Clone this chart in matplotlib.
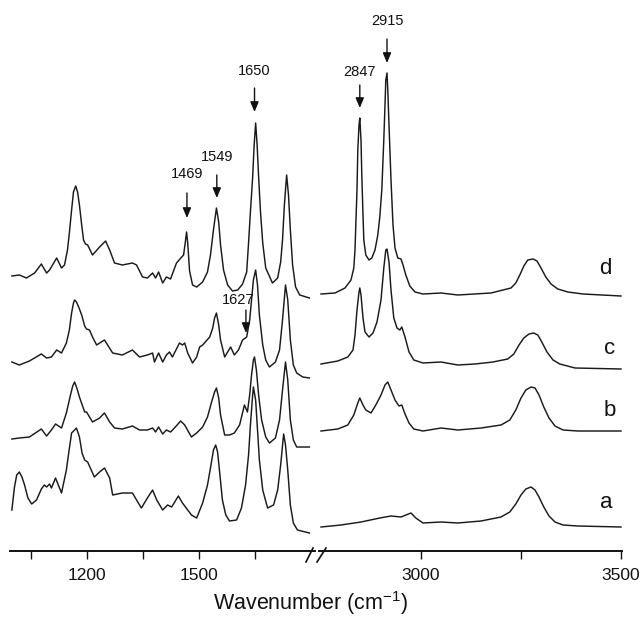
import matplotlib
matplotlib.use('Agg')
import matplotlib.pyplot as plt
from matplotlib.lines import Line2D

plt.rcParams['font.family'] = ['Liberation Sans', 'DejaVu Sans']
plt.rcParams['mathtext.fontset'] = 'custom'
plt.rcParams['mathtext.rm'] = 'Liberation Sans'
plt.rcParams['mathtext.it'] = 'Liberation Sans:italic'

# ---------------- data (wavenumber cm-1, stacked absorbance a.u.) ----------------
# low-wavenumber region
d_left = [(1000, 2.75), (1020, 2.76), (1039, 2.73), (1061, 2.78), (1079, 2.87), (1093, 2.78), (1101, 2.81),
          (1120, 2.93), (1133, 2.83), (1141, 2.86), (1149, 3.01), (1154, 3.18), (1160, 3.41), (1165, 3.59),
          (1171, 3.65), (1176, 3.59), (1181, 3.46), (1187, 3.26), (1192, 3.11), (1197, 3.07), (1203, 3.06),
          (1216, 2.96), (1235, 3.04), (1251, 3.10), (1262, 3.01), (1275, 2.88), (1296, 2.86), (1323, 2.88),
          (1334, 2.86), (1350, 2.74), (1363, 2.73), (1377, 2.78), (1385, 2.73), (1393, 2.79), (1404, 2.68),
          (1414, 2.74), (1425, 2.72), (1441, 2.88), (1455, 2.94), (1460, 2.96), (1465, 3.10), (1468, 3.19),
          (1471, 3.08), (1476, 2.80), (1484, 2.66), (1495, 2.64), (1511, 2.69), (1524, 2.79), (1532, 2.96),
          (1540, 3.21), (1548, 3.43), (1554, 3.29), (1559, 3.06), (1567, 2.81), (1578, 2.66), (1591, 2.60),
          (1605, 2.61), (1618, 2.67), (1629, 2.79), (1634, 3.08), (1639, 3.39), (1645, 3.74), (1649, 4.06),
          (1653, 4.28), (1657, 4.06), (1661, 3.74), (1666, 3.39), (1672, 3.08), (1680, 2.83), (1698, 2.68),
          (1712, 2.73), (1720, 2.89), (1725, 3.11), (1730, 3.46), (1736, 3.76), (1741, 3.56), (1746, 3.21),
          (1752, 2.86), (1760, 2.64), (1771, 2.56), (1797, 2.53)]

c_left = [(1000, 1.89), (1020, 1.86), (1047, 1.90), (1079, 1.97), (1093, 1.93), (1106, 1.94), (1120, 2.01),
          (1133, 1.98), (1146, 2.08), (1154, 2.21), (1160, 2.38), (1165, 2.48), (1168, 2.51), (1173, 2.49),
          (1180, 2.43), (1187, 2.36), (1195, 2.25), (1200, 2.22), (1208, 2.21), (1216, 2.14), (1227, 2.06),
          (1248, 2.11), (1270, 1.98), (1296, 1.96), (1323, 2.01), (1342, 1.94), (1363, 1.96), (1377, 1.98),
          (1382, 1.89), (1393, 1.98), (1404, 1.89), (1414, 1.96), (1422, 1.99), (1430, 1.94), (1449, 2.08),
          (1457, 2.06), (1463, 2.08), (1471, 1.98), (1484, 1.88), (1495, 1.94), (1503, 2.04), (1511, 2.06),
          (1530, 2.14), (1538, 2.23), (1543, 2.33), (1548, 2.38), (1554, 2.26), (1559, 2.11), (1570, 1.94),
          (1586, 2.04), (1596, 1.96), (1607, 2.01), (1618, 2.11), (1629, 2.14), (1637, 2.31), (1642, 2.51),
          (1647, 2.71), (1653, 2.81), (1658, 2.66), (1663, 2.36), (1672, 2.06), (1680, 1.91), (1690, 1.84),
          (1706, 1.89), (1717, 2.01), (1725, 2.31), (1733, 2.66), (1739, 2.51), (1746, 2.11), (1754, 1.86),
          (1763, 1.78), (1779, 1.74), (1797, 1.73)]

b_left = [(1000, 1.12), (1020, 1.13), (1047, 1.14), (1079, 1.22), (1093, 1.15), (1106, 1.21), (1117, 1.27),
          (1133, 1.23), (1146, 1.38), (1157, 1.56), (1163, 1.65), (1168, 1.69), (1174, 1.63), (1181, 1.54),
          (1195, 1.39), (1200, 1.39), (1216, 1.29), (1235, 1.33), (1248, 1.38), (1262, 1.29), (1275, 1.23),
          (1296, 1.22), (1323, 1.25), (1342, 1.21), (1363, 1.21), (1377, 1.23), (1385, 1.19), (1393, 1.24),
          (1404, 1.17), (1414, 1.21), (1425, 1.19), (1438, 1.24), (1452, 1.30), (1463, 1.26), (1481, 1.14),
          (1495, 1.18), (1511, 1.24), (1524, 1.34), (1535, 1.49), (1543, 1.59), (1548, 1.63), (1554, 1.53),
          (1559, 1.36), (1570, 1.16), (1583, 1.16), (1596, 1.18), (1610, 1.26), (1623, 1.46), (1631, 1.39),
          (1637, 1.56), (1642, 1.76), (1647, 1.91), (1650, 1.94), (1655, 1.81), (1661, 1.56), (1669, 1.31),
          (1680, 1.14), (1690, 1.08), (1706, 1.13), (1717, 1.31), (1725, 1.61), (1733, 1.89), (1739, 1.71),
          (1746, 1.31), (1754, 1.11), (1763, 1.04), (1797, 1.04)]

a_left = [(1000, 0.41), (1007, 0.64), (1013, 0.76), (1020, 0.79), (1027, 0.74), (1034, 0.66), (1043, 0.53),
          (1053, 0.47), (1066, 0.51), (1079, 0.62), (1087, 0.66), (1093, 0.64), (1101, 0.67), (1106, 0.63),
          (1117, 0.73), (1133, 0.58), (1146, 0.81), (1153, 1.00), (1160, 1.18), (1168, 1.21), (1173, 1.23),
          (1181, 1.14), (1188, 0.98), (1195, 0.91), (1203, 0.89), (1221, 0.74), (1235, 0.79), (1248, 0.83),
          (1262, 0.73), (1270, 0.56), (1296, 0.58), (1323, 0.58), (1334, 0.51), (1347, 0.43), (1363, 0.53),
          (1377, 0.61), (1388, 0.51), (1404, 0.41), (1417, 0.46), (1428, 0.44), (1446, 0.55), (1457, 0.48),
          (1481, 0.36), (1495, 0.33), (1511, 0.48), (1524, 0.66), (1532, 0.83), (1540, 1.01), (1546, 1.06),
          (1551, 0.99), (1556, 0.81), (1564, 0.51), (1573, 0.36), (1583, 0.30), (1602, 0.31), (1615, 0.43),
          (1626, 0.66), (1634, 0.96), (1639, 1.26), (1645, 1.56), (1647, 1.64), (1653, 1.51), (1658, 1.21),
          (1663, 0.91), (1672, 0.61), (1685, 0.43), (1701, 0.46), (1712, 0.61), (1720, 0.86), (1728, 1.17),
          (1733, 1.06), (1739, 0.81), (1746, 0.46), (1754, 0.28), (1765, 0.21), (1797, 0.18)]

# high-wavenumber region
d_right = [(2750, 2.57), (2785, 2.58), (2810, 2.63), (2825, 2.71), (2832, 2.83), (2835, 3.01), (2837, 3.26),
           (2840, 3.61), (2842, 4.01), (2845, 4.26), (2847, 4.33), (2850, 4.11), (2852, 3.76), (2855, 3.36),
           (2857, 3.11), (2862, 2.96), (2870, 2.91), (2877, 2.93), (2885, 3.01), (2892, 3.16), (2897, 3.34),
           (2902, 3.61), (2907, 4.11), (2910, 4.46), (2912, 4.71), (2915, 4.78), (2917, 4.61), (2920, 4.26),
           (2925, 3.71), (2930, 3.26), (2935, 3.03), (2942, 2.93), (2950, 2.92), (2955, 2.86), (2962, 2.76),
           (2972, 2.65), (2985, 2.59), (3005, 2.57), (3050, 2.58), (3092, 2.56), (3175, 2.58), (3205, 2.61),
           (3225, 2.63), (3237, 2.68), (3247, 2.76), (3257, 2.85), (3267, 2.91), (3280, 2.92), (3290, 2.90),
           (3300, 2.83), (3312, 2.74), (3325, 2.67), (3342, 2.62), (3367, 2.59), (3405, 2.57), (3500, 2.55)]

c_right = [(2750, 1.87), (2792, 1.90), (2817, 1.94), (2830, 2.01), (2835, 2.16), (2840, 2.41), (2845, 2.59),
           (2847, 2.63), (2850, 2.56), (2855, 2.33), (2860, 2.19), (2870, 2.14), (2880, 2.18), (2890, 2.29),
           (2900, 2.51), (2907, 2.83), (2912, 3.01), (2915, 3.02), (2920, 2.89), (2925, 2.61), (2932, 2.33),
           (2940, 2.23), (2947, 2.21), (2952, 2.24), (2960, 2.14), (2970, 1.99), (2982, 1.91), (3005, 1.88),
           (3050, 1.89), (3092, 1.86), (3135, 1.87), (3180, 1.89), (3217, 1.92), (3232, 1.97), (3245, 2.06),
           (3257, 2.13), (3270, 2.17), (3282, 2.18), (3292, 2.16), (3302, 2.09), (3315, 1.99), (3330, 1.91),
           (3347, 1.87), (3385, 1.83), (3500, 1.82)]

b_right = [(2750, 1.20), (2792, 1.22), (2817, 1.26), (2832, 1.36), (2842, 1.48), (2847, 1.53), (2855, 1.46),
           (2862, 1.41), (2875, 1.38), (2887, 1.46), (2900, 1.56), (2910, 1.66), (2917, 1.69), (2925, 1.61),
           (2935, 1.51), (2945, 1.45), (2952, 1.46), (2960, 1.37), (2970, 1.28), (2982, 1.22), (3005, 1.20),
           (3050, 1.23), (3092, 1.21), (3150, 1.23), (3200, 1.26), (3222, 1.31), (3237, 1.41), (3250, 1.53),
           (3262, 1.61), (3275, 1.64), (3285, 1.63), (3295, 1.56), (3307, 1.44), (3320, 1.33), (3335, 1.25),
           (3355, 1.21), (3392, 1.20), (3500, 1.20)]

a_right = [(2750, 0.24), (2800, 0.26), (2850, 0.29), (2897, 0.33), (2925, 0.35), (2950, 0.34), (2975, 0.38),
           (2987, 0.33), (3005, 0.28), (3050, 0.29), (3092, 0.28), (3150, 0.30), (3200, 0.34), (3222, 0.39),
           (3237, 0.47), (3250, 0.56), (3262, 0.62), (3275, 0.64), (3285, 0.61), (3295, 0.54), (3307, 0.44),
           (3320, 0.35), (3335, 0.29), (3355, 0.26), (3392, 0.25), (3500, 0.24)]

curve_names = ['a', 'b', 'c', 'd']
left_ticks = [1200, 1500]
left_minor = [1050, 1350, 1650]
right_ticks = [3000, 3500]
right_minor = [3250]

peak_labels = ['1469', '1549', '1650', '1627', '2847', '2915']
peak_wn = [1469, 1549, 1650, 1627, 2847, 2915]

# ---------------- figure ----------------
W, H = 642, 618
fig = plt.figure(figsize=(W / 100, H / 100), dpi=100)
axL = fig.add_axes([10 / W, 67 / H, 305 / W, 551 / H])
axR = fig.add_axes([319 / W, 67 / H, 303 / W, 551 / H])

lc = '#1a1a1a'
tc = '#111111'
for ax in (axL, axR):
    ax.set_ylim(0, 5.51)
    for s in ['top', 'right', 'left']:
        ax.spines[s].set_visible(False)
    ax.spines['bottom'].set_linewidth(1.4)
    ax.spines['bottom'].set_color(tc)
    ax.set_yticks([])
    ax.tick_params(axis='x', which='both', direction='out', length=5.5, width=1.0,
                   labelsize=12.5, pad=7, colors=tc)
    ax.patch.set_alpha(0)

axL.set_xlim(995, 1812)
axR.set_xlim(2745, 3502.5)
axL.set_xticks(left_ticks)
axL.set_xticks(left_minor, minor=True)
axR.set_xticks(right_ticks)
axR.set_xticks(right_minor, minor=True)

for trace in (a_left, b_left, c_left, d_left):
    wn, ab = zip(*trace)
    axL.plot(wn, ab, color=lc, lw=1.05, solid_joinstyle='round')
for trace in (a_right, b_right, c_right, d_right):
    wn, ab = zip(*trace)
    axR.plot(wn, ab, color=lc, lw=1.05, solid_joinstyle='round')

# curve labels
label_y = [0.48, 1.41, 2.03, 2.83]
label_x = [3462, 3472, 3472, 3462]
for name, x, y in zip(curve_names, label_x, label_y):
    axR.text(x, y, name, fontsize=16, ha='center', va='center', color=tc)

# peak arrows
text_y = [3.77, 3.94, 4.80, 2.51, 4.79, 5.30]
tail_y = [3.58, 3.76, 4.63, 2.41, 4.66, 5.12]
tip_y = [3.33, 3.53, 4.39, 2.18, 4.43, 4.88]
text_dx = [0, 0, 0, -20, 0, 0]
for lab, x, ty, t0, t1, dx in zip(peak_labels, peak_wn, text_y, tail_y, tip_y, text_dx):
    ax = axL if x < 2000 else axR
    ax.text(x + dx, ty, lab, fontsize=10.5, ha='center', va='center', color=tc)
    ax.annotate('', xy=(x, t1), xytext=(x, t0),
                arrowprops=dict(arrowstyle='-|>,head_length=0.6,head_width=0.25',
                                color=tc, lw=1.0, shrinkA=0, shrinkB=0, mutation_scale=10))

# axis break marks
for x0, x1 in [(306, 313), (317, 326)]:
    fig.add_artist(Line2D([x0 / W, x1 / W], [1 - 562 / H, 1 - 548 / H], color=tc, lw=1.2,
                          transform=fig.transFigure))

fig.text(311 / W, 1 - 603 / H, 'Wavenumber (cm$^{\\mathregular{-1}}$)', fontsize=15.5,
         ha='center', va='center', color=tc)

fig.savefig('out.png', dpi=100)
